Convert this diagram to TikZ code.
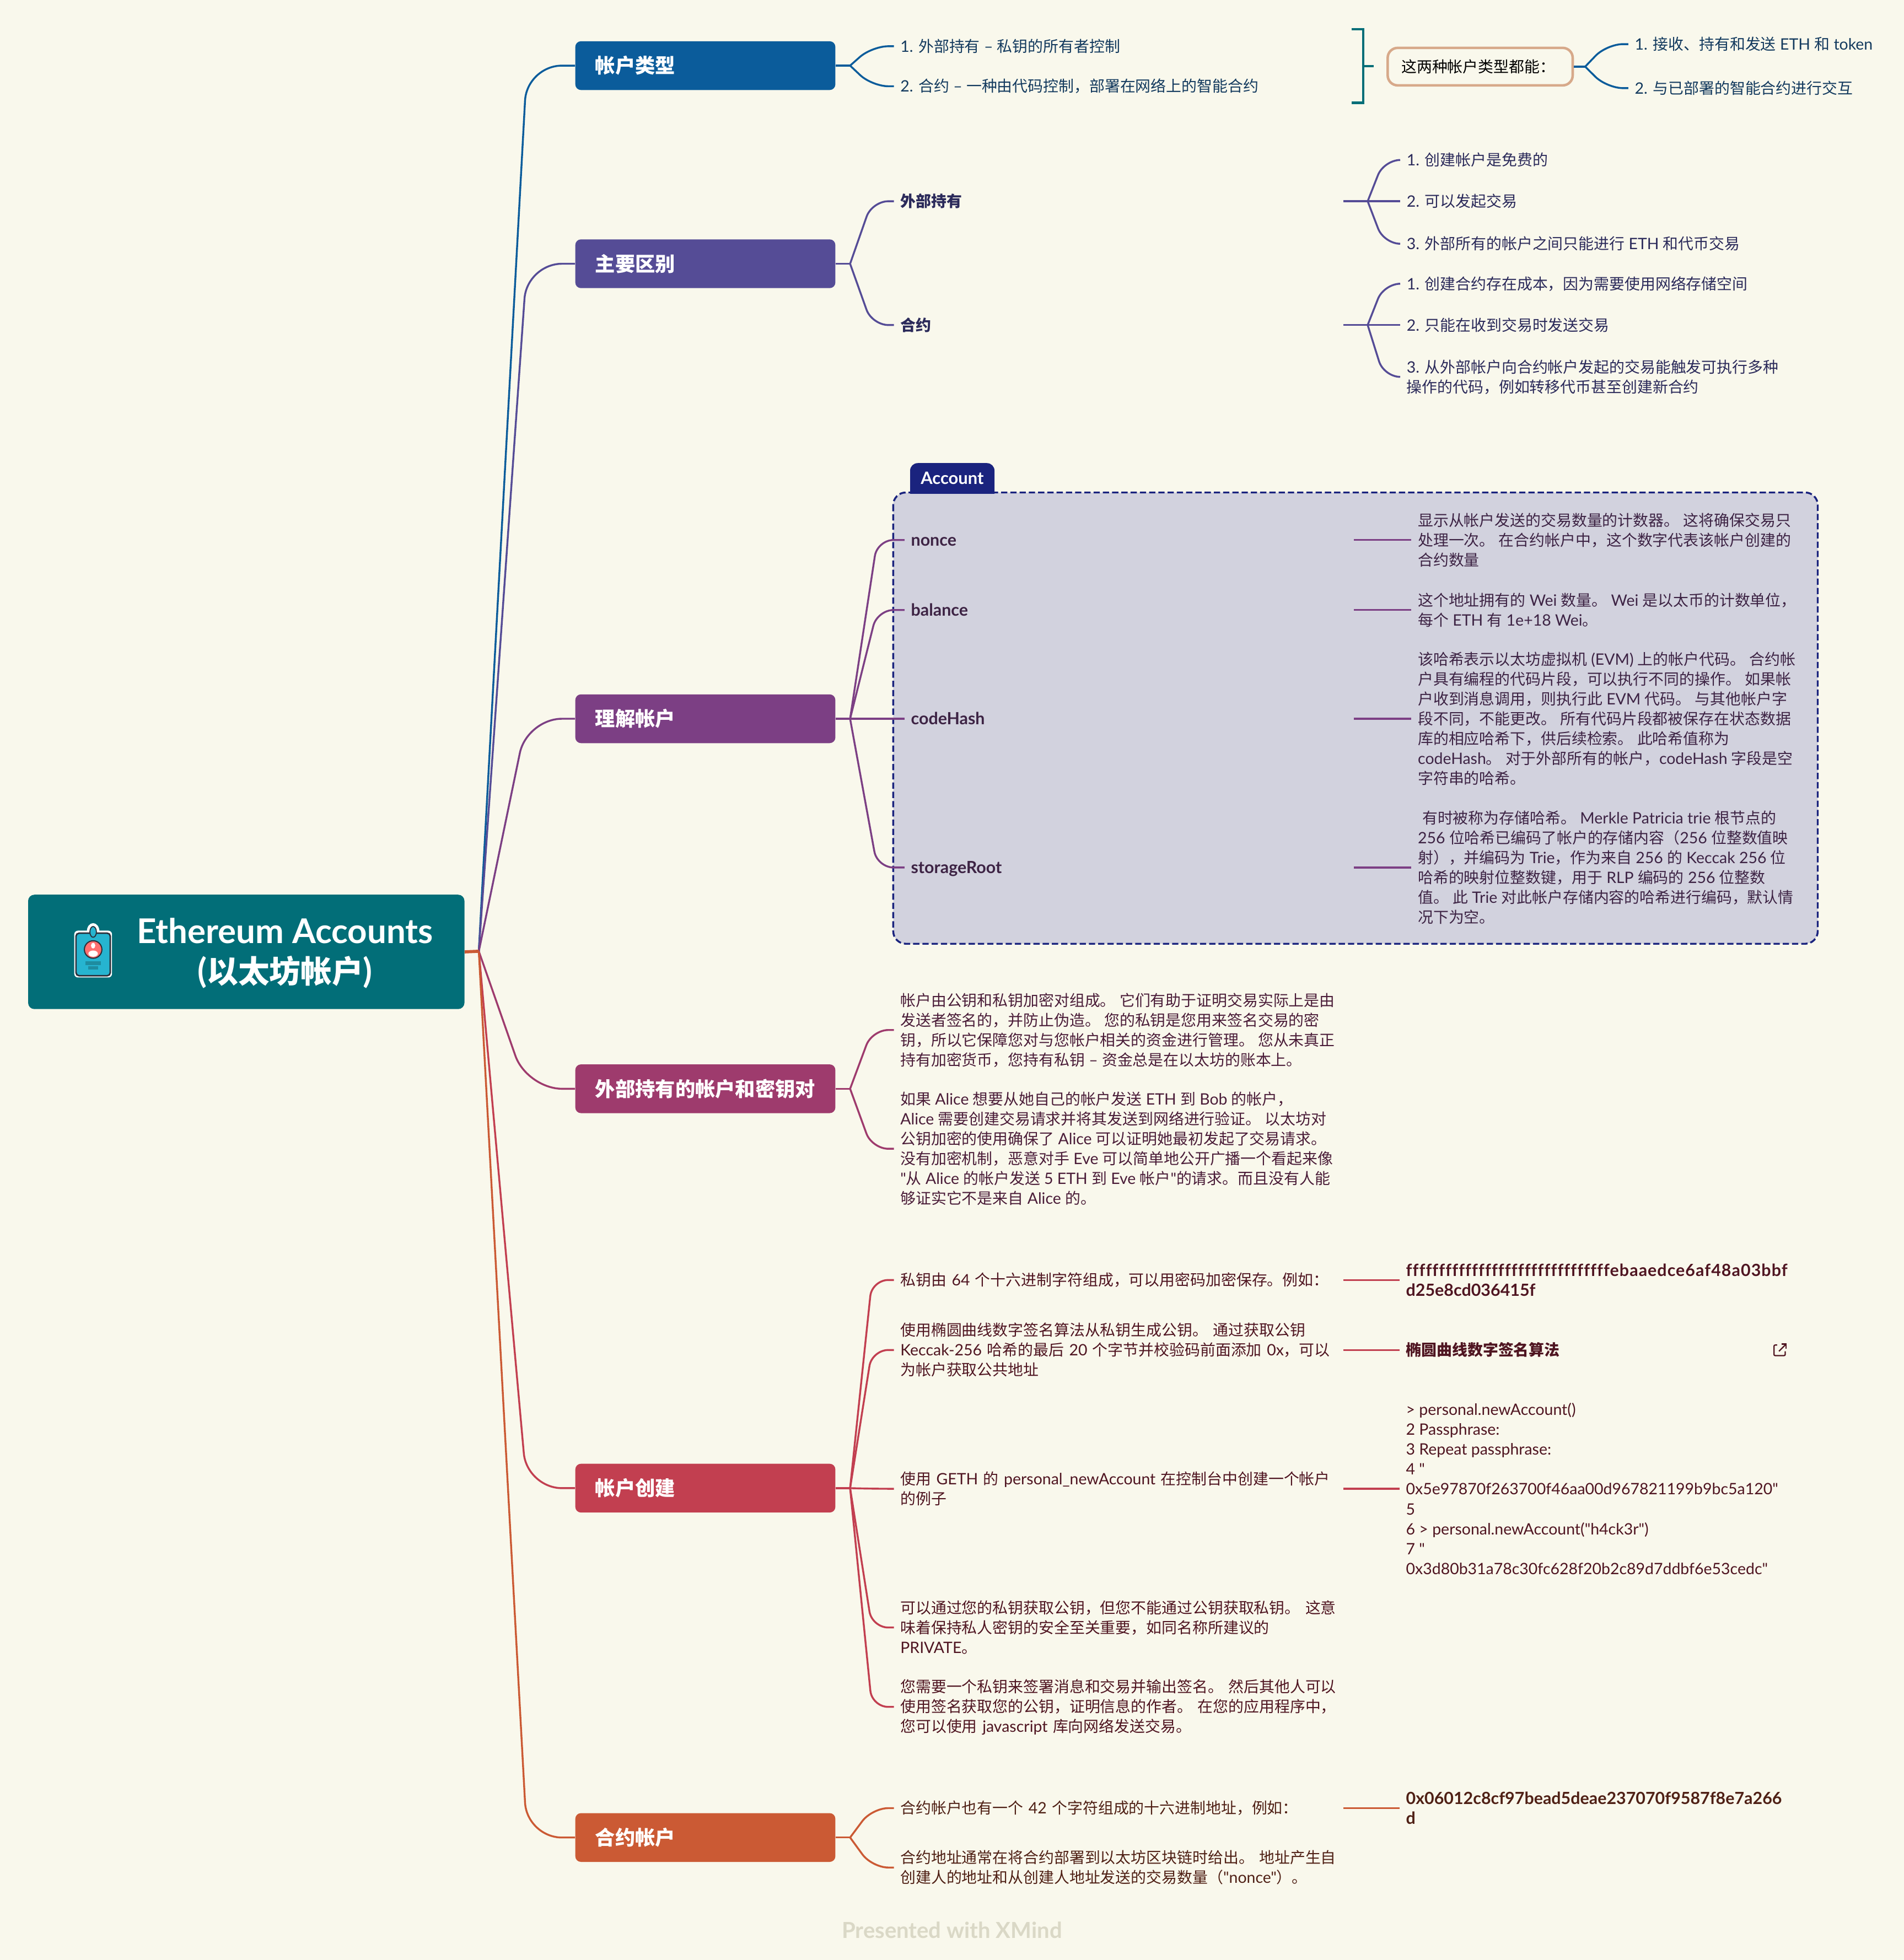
\documentclass[tikz,border=0pt]{standalone}
\usepackage{fontspec}
\usepackage{xcolor}
\usetikzlibrary{calc}
\setmainfont{Lato}[Ligatures={TeXOff,NoCommon},Scale=1.02,BoldFeatures={Scale=1.09}]
\newfontfamily\cjkfont{Noto Sans CJK SC}
\XeTeXinterchartokenstate=1
\newXeTeXintercharclass\cjkclass
\newcount\cjkpos
\newcommand{\cjkrange}[2]{\cjkpos=#1 \loop\XeTeXcharclass\cjkpos=\cjkclass\relax\ifnum\cjkpos<#2 \advance\cjkpos by 1 \repeat}
\cjkrange{"3000}{"303F}
\cjkrange{"4E00}{"9FFF}
\cjkrange{"FF00}{"FFEF}
\XeTeXinterchartoks 0 \cjkclass={\cjkfont}
\XeTeXinterchartoks 4095 \cjkclass={\cjkfont}
\XeTeXinterchartoks \cjkclass 0={\rmfamily}
\XeTeXinterchartoks \cjkclass 4095={\rmfamily}
\definecolor{paper}{HTML}{F9F8EC}
\definecolor{rootcol}{HTML}{026E78}
\definecolor{cola}{HTML}{0B5C9B}
\definecolor{colb}{HTML}{554C96}
\definecolor{colc}{HTML}{7C3F84}
\definecolor{cold}{HTML}{9E3B6D}
\definecolor{cole}{HTML}{C23F50}
\definecolor{colf}{HTML}{CB5A34}
\definecolor{inka}{HTML}{133A5E}
\definecolor{inkb}{HTML}{2B2A5A}
\definecolor{inkc}{HTML}{3D2344}
\definecolor{inkd}{HTML}{4A1C38}
\definecolor{inke}{HTML}{4F1521}
\definecolor{inkf}{HTML}{4F2015}
\definecolor{navy}{HTML}{1A237E}
\definecolor{zone}{HTML}{D2D2DE}
\definecolor{sand}{HTML}{D7A98A}
\definecolor{brand}{HTML}{DAD8C6}
\definecolor{badge}{HTML}{26B4D0}
\definecolor{badgeline}{HTML}{2B2F3A}
\definecolor{badgebar}{HTML}{1E8CA0}
\definecolor{face}{HTML}{FF6F6F}
\tikzset{
  stem/.style={line width=1.5pt,rounded corners=13pt},
  trunk/.style={line width=1.5pt,rounded corners=28pt},
  branch/.style={rectangle,rounded corners=4.5pt,anchor=west,minimum height=39pt,text width=176pt,
    inner xsep=16pt,inner ysep=0pt,align=left,text=white,font=\fontsize{16}{19}\selectfont\bfseries},
  leaf/.style={rectangle,anchor=west,inner xsep=5pt,inner ysep=0pt,align=left,font=\fontsize{12.3}{15.9}\selectfont},
  wide/.style={leaf,text width=349pt},
  strong/.style={leaf,font=\fontsize{12.3}{15.9}\selectfont\bfseries},
  tag/.style={wide,strong,text height=11pt,text depth=1.5pt},
}
\newcommand{\limb}[3]{\draw[#1] (#2) -- ($(#2 |- #3.west)!.5!(#3.west)$) -- (#3.west);}
\begin{document}
\begin{tikzpicture}[x=1pt,y=-1pt]
  \useasboundingbox (0,0) rectangle (1523,1568);
  \fill[paper] (0,0) rectangle (1523,1568);

  \draw[navy,fill=zone,line width=1.5pt,dashed,dash pattern=on 5pt off 2.4pt,rounded corners=10pt] (714.5,394) rectangle (1454,755);
  \fill[navy] (728,395) {[rounded corners=6pt] -- (728,370.5) -- (795.5,370.5)} -- (795.5,395) -- cycle;
  \node[text=white,font=\fontsize{12.5}{15}\selectfont\bfseries] (tab) at (761.7,382.5) {Account};

  \node[rectangle,fill=rootcol,rounded corners=5pt,minimum width=349pt,minimum height=91.5pt] (root) at (197,761.5) {};
  \node[text=white,align=center,font=\fontsize{25}{32}\selectfont\bfseries] (title) at (228,762.5) {Ethereum Accounts\\(以太坊帐户)};
  \coordinate (hub) at (383,761);

  % badge
  \fill[white,rounded corners=3pt] (59.4,744.5) rectangle (89.6,782);
  \fill[white] (74.5,745) ellipse (5pt and 6.5pt);
  \draw[fill=badge,draw=badgeline,line width=1.2pt,rounded corners=2.5pt] (60.8,746.5) rectangle (88.2,780.6);
  \draw[fill=badge,draw=badgeline,line width=.8pt] (74.5,745.5) ellipse (2.6pt and 4.3pt);
  \draw[fill=face,draw=badgeline,line width=.9pt] (74.5,759.6) circle (7pt);
  \fill[white] (74.5,756.5) ellipse (1.7pt and 2.3pt);
  \fill[white] (74.5,762.9) ellipse (3.8pt and 2.5pt);
  \fill[badgebar] (68.5,769.2) rectangle (80.5,772);
  \fill[badgebar] (70.5,773) rectangle (78.5,775.8);

  \node[branch,fill=cola] (types) at (460,52.5) {帐户类型};
  \node[branch,fill=colb] (diffs) at (460,211) {主要区别};
  \node[branch,fill=colc] (grasp) at (460,575) {理解帐户};
  \node[branch,fill=cold] (keys) at (460,871) {外部持有的帐户和密钥对};
  \node[branch,fill=cole] (create) at (460,1190.5) {帐户创建};
  \node[branch,fill=colf] (contract) at (460,1470) {合约帐户};

  \node[leaf,text=inka] (typea) at (715,37) {1. 外部持有 – 私钥的所有者控制};
  \node[leaf,text=inka] (typeb) at (715,69) {2. 合约 – 一种由代码控制，部署在网络上的智能合约};
  \draw[rootcol,line width=2pt] (1081,23.3) -- (1090.5,23.3) -- (1090.5,82.3) -- (1081,82.3);
  \draw[rootcol,line width=2pt] (1090.5,53) -- (1099,53);
  \node[rectangle,draw=sand,line width=2pt,rounded corners=8pt,anchor=west,minimum height=30pt,text width=126pt,inner xsep=11pt,align=left,text=black,font=\fontsize{12.3}{15.9}\selectfont] (both) at (1109,53.3) {这两种帐户类型都能：};
  \node[leaf,text=inka] (botha) at (1302.5,35.3) {1. 接收、持有和发送 ETH 和 token};
  \node[leaf,text=inka] (bothb) at (1302.5,70.5) {2. 与已部署的智能合约进行交互};

  \node[tag,text=inkb] (owned) at (715,161) {外部持有};
  \node[tag,text=inkb] (coded) at (715,260) {合约};
  \node[leaf,text=inkb] (owneda) at (1120,128) {1. 创建帐户是免费的};
  \node[leaf,text=inkb] (ownedb) at (1120,161) {2. 可以发起交易};
  \node[leaf,text=inkb] (ownedc) at (1120,195) {3. 外部所有的帐户之间只能进行 ETH 和代币交易};
  \node[leaf,text=inkb] (codeda) at (1120,227) {1. 创建合约存在成本，因为需要使用网络存储空间};
  \node[leaf,text=inkb] (codedb) at (1120,260) {2. 只能在收到交易时发送交易};
  \node[leaf,text=inkb] (codedc) at (1120,301.5) {3. 从外部帐户向合约帐户发起的交易能触发可执行多种\\操作的代码，例如转移代币甚至创建新合约};

  \node[tag,text=inkc] (nonce) at (723.5,432) {nonce};
  \node[tag,text=inkc] (balance) at (723.5,488) {balance};
  \node[tag,text=inkc] (codehash) at (723.5,575) {codeHash};
  \node[tag,text=inkc] (storage) at (723.5,694) {storageRoot};
  \node[leaf,text=inkc] (noncetext) at (1129,432) {显示从帐户发送的交易数量的计数器。 这将确保交易只\\处理一次。 在合约帐户中，这个数字代表该帐户创建的\\合约数量};
  \node[leaf,text=inkc] (balancetext) at (1129,488) {这个地址拥有的 Wei 数量。 Wei 是以太币的计数单位，\\每个 ETH 有 1e+18 Wei。};
  \node[leaf,text=inkc] (codehashtext) at (1129,575) {该哈希表示以太坊虚拟机 (EVM) 上的帐户代码。 合约帐\\户具有编程的代码片段，可以执行不同的操作。 如果帐\\户收到消息调用，则执行此 EVM 代码。 与其他帐户字\\段不同，不能更改。 所有代码片段都被保存在状态数据\\库的相应哈希下，供后续检索。 此哈希值称为\\codeHash。 对于外部所有的帐户，codeHash 字段是空\\字符串的哈希。};
  \node[leaf,text=inkc] (storagetext) at (1129,694) {\hspace{3.5pt}有时被称为存储哈希。 Merkle Patricia trie 根节点的\\256 位哈希已编码了帐户的存储内容（256 位整数值映\\射），并编码为 Trie，作为来自 256 的 Keccak 256 位\\哈希的映射位整数键，用于 RLP 编码的 256 位整数\\值。 此 Trie 对此帐户存储内容的哈希进行编码，默认情\\况下为空。};

  \node[leaf,text=inkd] (keysa) at (715,824) {帐户由公钥和私钥加密对组成。 它们有助于证明交易实际上是由\\发送者签名的，并防止伪造。 您的私钥是您用来签名交易的密\\钥，所以它保障您对与您帐户相关的资金进行管理。 您从未真正\\持有加密货币，您持有私钥 – 资金总是在以太坊的账本上。};
  \node[leaf,text=inkd] (keysb) at (715,919) {如果 Alice 想要从她自己的帐户发送 ETH 到 Bob 的帐户，\\Alice 需要创建交易请求并将其发送到网络进行验证。 以太坊对\\公钥加密的使用确保了 Alice 可以证明她最初发起了交易请求。\\没有加密机制，恶意对手 Eve 可以简单地公开广播一个看起来像\\"从 Alice 的帐户发送 5 ETH 到 Eve 帐户"的请求。而且没有人能\\够证实它不是来自 Alice 的。};

  \node[wide,text=inke] (createa) at (715,1024) {私钥由 64 个十六进制字符组成，可以用密码加密保存。例如：};
  \node[wide,text=inke] (createb) at (715,1080) {使用椭圆曲线数字签名算法从私钥生成公钥。 通过获取公钥\\Keccak-256 哈希的最后 20 个字节并校验码前面添加 0x，可以\\为帐户获取公共地址};
  \node[wide,text=inke] (createc) at (715,1191) {使用 GETH 的 personal\_newAccount 在控制台中创建一个帐户\\的例子};
  \node[wide,text=inke] (created) at (715,1302) {可以通过您的私钥获取公钥，但您不能通过公钥获取私钥。 这意\\味着保持私人密钥的安全至关重要，如同名称所建议的\\PRIVATE。};
  \node[wide,text=inke] (createe) at (715,1365.5) {您需要一个私钥来签署消息和交易并输出签名。 然后其他人可以\\使用签名获取您的公钥，证明信息的作者。 在您的应用程序中，\\您可以使用 javascript 库向网络发送交易。};
  \node[strong,text=inke] (keytext) at (1119.5,1024) {{\addfontfeatures{LetterSpace=3.4}fffffffffffffffffffffffffffffffebaaedce6af48a03bbf}\\d25e8cd036415f};
  \node[strong,text=inke] (ecdsa) at (1119.5,1080) {椭圆曲线数字签名算法};
  \node[leaf,text=inke] (console) at (1119.5,1191) {> personal.newAccount()\\2 Passphrase:\\3 Repeat passphrase:\\4 "\\0x5e97870f263700f46aa00d967821199b9bc5a120"\\5\\6 > personal.newAccount("h4ck3r")\\7 "\\0x3d80b31a78c30fc628f20b2c89d7ddbf6e53cedc"};
  \draw[inke,line width=1pt,rounded corners=1pt] (1421.5,1076) -- (1419,1076) -- (1419,1084.5) -- (1428,1084.5) -- (1428,1081);
  \draw[inke,line width=1pt] (1423,1081) -- (1428.5,1075.5);
  \draw[inke,line width=1pt] (1425,1075.2) -- (1428.7,1075.2) -- (1428.7,1079);

  \node[wide,text=inkf] (contracta) at (715,1446.5) {合约帐户也有一个 42 个字符组成的十六进制地址，例如：};
  \node[wide,text=inkf] (contractb) at (715,1494) {合约地址通常在将合约部署到以太坊区块链时给出。 地址产生自\\创建人的地址和从创建人地址发送的交易数量（"nonce"）。};
  \node[strong,text=inkf] (address) at (1119.5,1446.5) {0x06012c8cf97bead5deae237070f9587f8e7a266\\d};

  \coordinate (typehub) at (680,52.5);
  \coordinate (bothhub) at (1268,53.3);
  \coordinate (diffhub) at (680,211);
  \coordinate (ownedhub) at (1094,161);
  \coordinate (codedhub) at (1094,260);
  \coordinate (grasphub) at (680,575);
  \coordinate (keyshub) at (680,871);
  \coordinate (createhub) at (680,1190.5);
  \coordinate (contracthub) at (680,1470);

  \limb{trunk,cola}{hub}{types}
  \limb{trunk,colb}{hub}{diffs}
  \limb{trunk,colc}{hub}{grasp}
  \limb{trunk,cold}{hub}{keys}
  \limb{trunk,cole}{hub}{create}
  \limb{trunk,colf}{hub}{contract}
  \draw[colf,line width=2.5pt] (root.east) -- (hub);

  \draw[stem,cola] (types.east) -- (typehub);
  \foreach \kid in {typea,typeb} {\limb{stem,cola}{typehub}{\kid}}
  \draw[stem,cola] (both.east) -- (bothhub);
  \foreach \kid in {botha,bothb} {\limb{stem,cola}{bothhub}{\kid}}

  \draw[stem,colb] (diffs.east) -- (diffhub);
  \foreach \kid in {owned,coded} {\limb{stem,colb}{diffhub}{\kid}}
  \draw[stem,colb] (owned.east) -- (ownedhub);
  \foreach \kid in {owneda,ownedb,ownedc} {\limb{stem,colb}{ownedhub}{\kid}}
  \draw[stem,colb] (coded.east) -- (codedhub);
  \foreach \kid in {codeda,codedb,codedc} {\limb{stem,colb}{codedhub}{\kid}}

  \draw[stem,colc] (grasp.east) -- (grasphub);
  \foreach \kid in {nonce,balance,codehash,storage} {\limb{stem,colc}{grasphub}{\kid}}
  \draw[stem,colc] (nonce.east) -- (noncetext.west);
  \draw[stem,colc] (balance.east) -- (balancetext.west);
  \draw[stem,colc] (codehash.east) -- (codehashtext.west);
  \draw[stem,colc] (storage.east) -- (storagetext.west);

  \draw[stem,cold] (keys.east) -- (keyshub);
  \foreach \kid in {keysa,keysb} {\limb{stem,cold}{keyshub}{\kid}}

  \draw[stem,cole] (create.east) -- (createhub);
  \foreach \kid in {createa,createb,createc,created,createe} {\limb{stem,cole}{createhub}{\kid}}
  \draw[stem,cole] (createa.east) -- (keytext.west);
  \draw[stem,cole] (createb.east) -- (ecdsa.west);
  \draw[stem,cole] (createc.east) -- (console.west);

  \draw[stem,colf] (contract.east) -- (contracthub);
  \foreach \kid in {contracta,contractb} {\limb{stem,colf}{contracthub}{\kid}}
  \draw[stem,colf] (contracta.east) -- (address.west);

  \node[text=brand,font=\fontsize{16.2}{20}\selectfont\bfseries] (brandname) at (761.5,1544) {Presented with XMind};
\end{tikzpicture}
\end{document}
